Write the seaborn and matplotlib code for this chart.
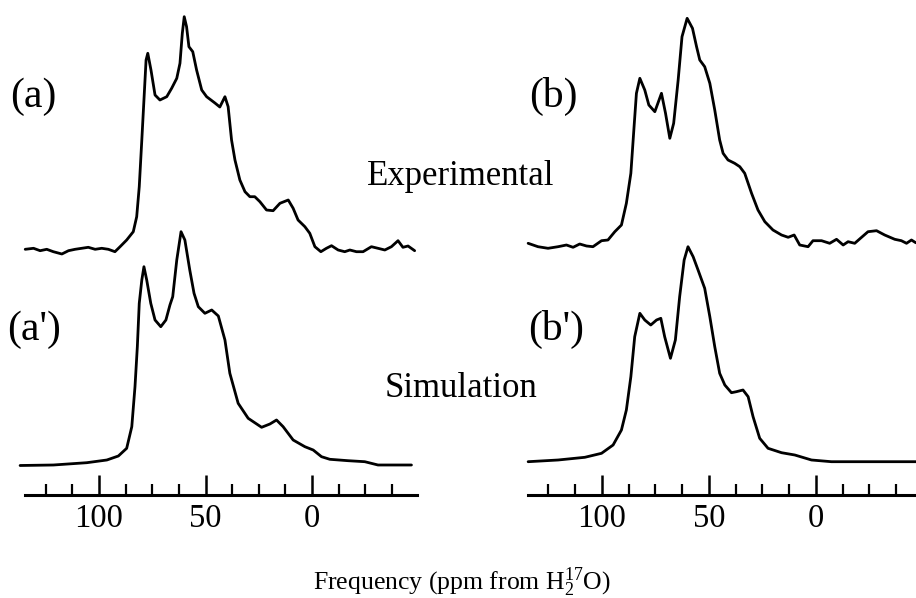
import matplotlib
matplotlib.use("Agg")
import matplotlib.pyplot as plt
import seaborn as sns
import numpy as np
from matplotlib.ticker import MultipleLocator

# chemical shift (ppm) and intensity (arbitrary units above each trace's baseline)
ppm_exp_a = [134.6, 130.7, 127.6, 124.5, 121.4, 117.4, 114.3, 111.2, 108.1, 105.0, 101.8, 98.7,
             95.6, 92.5, 90.1, 87.0, 83.9, 82.3, 81.1, 79.9, 78.9, 77.9, 77.1, 75.6, 73.7, 71.4,
             68.2, 65.9, 63.5, 62.0, 60.9, 60.0, 58.9, 57.8, 56.0, 54.2, 51.8, 49.5, 45.6, 43.3,
             40.9, 39.4, 37.8, 36.2, 33.9, 31.5, 29.2, 26.9, 24.5, 21.4, 18.3, 15.1, 11.2, 8.9,
             6.6, 3.4, 1.1, -1.3, -4.1, -6.7, -9.1, -12.2, -15.3, -17.7, -20.8, -23.9, -27.8,
             -30.9, -34.1, -37.2, -40.3, -42.6, -45.0, -48.1]
int_exp_a = [0.7, 1.7, -0.7, 0.7, -1.7, -4.0, -0.7, 0.7, 1.7, 2.7, 0.7, 1.7,
             0.7, -1.7, 3.3, 10, 18.3, 33.3, 63.3, 110, 150, 190, 196.7, 180, 155, 150,
             153.3, 161.7, 171.7, 186.7, 216.7, 233.3, 223.3, 203.3, 198.3, 180, 160, 153.3, 147, 143,
             153.3, 143.3, 110, 90, 70, 58.3, 53.3, 53.3, 48.3, 40, 39.3, 46.7, 50, 41.7,
             30, 23.3, 16.7, 3.3, -1.7, 1.7, 4.3, 0, -1.7, 0, -1.7, -1.7, 3.3,
             1.7, 0, 3.3, 9.3, 2.7, 4, -0.7]

ppm_sim_a = [137.0, 121.4, 105.7, 96.3, 90.9, 87.0, 84.6, 83.1, 82.0, 81.1, 79.9, 78.9, 77.6,
             75.7, 73.7, 71.0, 68.6, 66.7, 65.4, 63.5, 61.5, 59.7, 57.4, 55.4, 53.4, 50.3, 47.1,
             44.0, 40.9, 38.6, 34.7, 30.0, 23.7, 19.8, 16.7, 13.6, 8.9, 3.4, -0.5, -4.4, -8.3,
             -16.9, -24.7, -30.9, -46.6]
int_sim_a = [-0.5, 0, 2.3, 5, 9, 16.7, 38.3, 78.3, 118.3, 161.7, 185, 198.3, 185,
             161.7, 145, 138.3, 145, 160, 168.3, 205, 233.3, 225, 195, 171.7, 158.3, 151.7, 155,
             149, 125, 91.7, 61.7, 46.7, 37.7, 41, 45, 38.3, 25, 18.3, 15, 8.3, 5.7,
             4.3, 3.3, 0, 0]

ppm_exp_b = [134.4, 129.8, 125.1, 120.4, 116.5, 113.4, 110.3, 107.1, 104.1, 100.1, 97.1, 93.9,
             90.8, 88.5, 86.4, 84.9, 83.8, 82.2, 79.9, 78.0, 75.2, 72.1, 70.2, 68.2, 66.4, 64.3,
             62.5, 60.1, 57.6, 55.7, 54.2, 51.9, 49.5, 47.2, 44.9, 43.3, 41.0, 37.9, 35.5, 33.2,
             30.0, 27.0, 23.8, 20.0, 16.0, 12.9, 10.1, 7.5, 3.6, 1.3, -2.7, -6.5, -9.7, -12.8,
             -15.1, -18.2, -21.4, -24.4, -28.4, -32.2, -36.9, -40.0, -42.4, -44.7, -46.7, -49.0]
int_exp_b = [1.7, -1.7, -3.3, -1.7, 0, -2.3, 1, -1, -1.7, 4.3, 5, 13.3,
             20, 41.7, 71.7, 118.3, 151.7, 166.7, 155, 140, 133.3, 151.7, 131.7, 106.7, 121.7, 165,
             208.3, 226.7, 216.7, 198.3, 185, 178.3, 161.7, 135, 105, 91.7, 85, 81.7, 78.3, 71.7,
             51.7, 35, 23.3, 15, 10, 7.7, 10, 0, -1.7, 4.3, 4.3, 1.7, 5.7, 0,
             3.3, 1.7, 7.7, 13.3, 14.3, 10, 5.7, 4.3, 1.7, 5, 2.3, 2.0]

ppm_sim_b = [134.4, 120.4, 107.9, 100.1, 94.7, 90.8, 88.5, 86.4, 84.6, 82.2, 79.9, 77.1, 74.4,
             72.4, 70.6, 67.9, 65.6, 63.6, 61.5, 59.7, 57.3, 55.0, 51.9, 49.5, 47.2, 44.9, 42.5,
             39.4, 37.1, 34.0, 31.6, 29.3, 26.2, 22.3, 16.0, 9.8, 2.0, -7.3, -49.0]
int_sim_b = [0.3, 2, 4.7, 8.7, 17, 32, 52, 85.3, 125.3, 148.7, 142, 137, 142,
             143.7, 125.3, 103.7, 122, 165.3, 202, 215.3, 205.3, 192, 173.7, 145.3, 115.3, 88.7, 77,
             69.3, 70.3, 72, 65.3, 45.3, 23.7, 13.7, 9.3, 7, 2, 0.3, 0.3]

major_ticks = [100, 50, 0]
tick_labels = ["100", "50", "0"]

sns.set_theme(style="white")
plt.rcParams['font.family'] = ['Liberation Serif', 'DejaVu Serif']
plt.rcParams['mathtext.fontset'] = 'custom'
plt.rcParams['mathtext.rm'] = 'Liberation Serif'
plt.rcParams['mathtext.it'] = 'Liberation Serif:italic'
plt.rcParams['text.color'] = 'black'

fig = plt.figure(figsize=(9.16, 5.98), dpi=100)
ax_a = fig.add_axes([25 / 916, 103 / 598, 392 / 916, 495 / 598])
ax_b = fig.add_axes([527.7 / 916, 103 / 598, 392.3 / 916, 495 / 598])

panels = [
    (ax_a, ppm_exp_a, int_exp_a, 245, ppm_sim_a, int_sim_a, 30, (134.7, -49.2)),
    (ax_b, ppm_exp_b, int_exp_b, 250, ppm_sim_b, int_sim_b, 33, (134.6, -48.7)),
]

for ax, pe, ie, off_e, ps, isim, off_s, xlim in panels:
    sns.lineplot(x=pe, y=np.array(ie) + off_e, ax=ax, color='black', lw=2.0,
                 sort=False, estimator=None, clip_on=False, solid_joinstyle='round')
    sns.lineplot(x=ps, y=np.array(isim) + off_s, ax=ax, color='black', lw=2.0,
                 sort=False, estimator=None, clip_on=False, solid_joinstyle='round')
    ax.set_xlim(*xlim)
    ax.set_ylim(0, 495)
    for side in ['left', 'right', 'top']:
        ax.spines[side].set_visible(False)
    ax.spines['bottom'].set_linewidth(2.2)
    ax.spines['bottom'].set_color('black')
    ax.set_xticks(major_ticks)
    ax.set_xticklabels(tick_labels)
    ax.xaxis.set_minor_locator(MultipleLocator(12.5))
    ax.tick_params(axis='x', which='major', direction='in', length=14.5, width=1.8,
                   pad=6, labelsize=23.5, colors='black', labelcolor='black', bottom=True)
    ax.tick_params(axis='x', which='minor', direction='in', length=8, width=1.6,
                   colors='black', bottom=True)
    ax.set_yticks([])
    ax.set_xlabel('')
    ax.set_ylabel('')
    ax.patch.set_alpha(0)

fig.text(10 / 916, 1 - 107 / 598, "(a)", fontsize=30, ha='left', va='baseline', color='black')
fig.text(529 / 916, 1 - 107 / 598, "(b)", fontsize=30, ha='left', va='baseline', color='black')
fig.text(7 / 916, 1 - 340 / 598, "(a')", fontsize=30, ha='left', va='baseline', color='black')
fig.text(528 / 916, 1 - 340 / 598, "(b')", fontsize=30, ha='left', va='baseline', color='black')
fig.text(461 / 916, 1 - 185 / 598, "Experimental", fontsize=25, ha='center', va='baseline',
         color='black')
fig.text(461 / 916, 1 - 397 / 598, "Simulation", fontsize=25, ha='center', va='baseline',
         color='black')
fig.text(462 / 916, 1 - 590 / 598, r"Frequency (ppm from H$_2^{17}$O)", fontsize=18.5,
         ha='center', va='baseline', color='black')

fig.savefig("out.png", dpi=100, facecolor='white')
